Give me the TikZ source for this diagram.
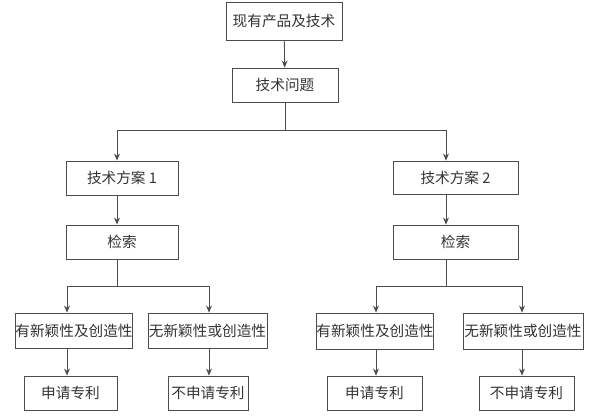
\documentclass[tikz,border=0pt]{standalone}
\usepackage{fontspec}
\setmainfont{Noto Sans CJK SC}
\usetikzlibrary{arrows.meta}

\begin{document}
\begin{tikzpicture}[x=0.03cm, y=-0.03cm,
    caixa/.style={draw=black!70, line width=0.7pt, text=black!80, inner sep=0pt,
      font=\fontsize{12.5}{14}\selectfont, minimum height=1.02cm},
    fletxa/.style={draw=black!70, line width=0.7pt, -{Stealth[length=6pt, width=5pt]}},
    linia/.style={draw=black!70, line width=0.7pt}]
    \useasboundingbox (0,0) rectangle (597,417);

    % CAPÇALERA
    \node[caixa, minimum width=3.48cm, minimum height=1.14cm] (prod) at (284,21) {现有产品及技术};
    \node[caixa, minimum width=3.18cm] (prob) at (285,85) {技术问题};

    % BRANCA ESQUERRA
    \node[caixa, minimum width=3.36cm] (sol1) at (122,178) {技术方案 1};
    \node[caixa, minimum width=3.36cm] (cerca1) at (122,242) {检索};
    \node[caixa, minimum width=3.42cm, minimum height=1.05cm] (nov1) at (74,330.5) {有新颖性及创造性};
    \node[caixa, minimum width=3.57cm, minimum height=1.05cm] (nonov1) at (207.5,330.5) {无新颖性或创造性};
    \node[caixa, minimum width=2.79cm] (pat1) at (70.5,393) {申请专利};
    \node[caixa, minimum width=2.4cm] (nopat1) at (208,393) {不申请专利};

    % BRANCA DRETA
    \node[caixa, minimum width=3.75cm, minimum height=0.99cm] (sol2) at (455.5,177.5) {技术方案 2};
    \node[caixa, minimum width=3.75cm] (cerca2) at (455.5,242) {检索};
    \node[caixa, minimum width=3.48cm, minimum height=1.08cm] (nov2) at (375,331) {有新颖性及创造性};
    \node[caixa, minimum width=3.6cm, minimum height=1.08cm] (nonov2) at (523,331) {无新颖性或创造性};
    \node[caixa, minimum width=2.85cm] (pat2) at (374.5,393) {申请专利};
    \node[caixa, minimum width=2.85cm] (nopat2) at (526.5,393) {不申请专利};

    % PUNTS DE BIFURCACIÓ
    \coordinate (b0) at (285,130);
    \coordinate (b1) at (117,130);
    \coordinate (b2) at (446,130);
    \coordinate (c1) at (117,286);
    \coordinate (c2) at (446,286);
    \coordinate (e1) at (67,286);
    \coordinate (f1) at (209,286);
    \coordinate (e2) at (376,286);
    \coordinate (f2) at (522,286);

    % CONNECTORS
    \draw[fletxa] (prod) -- (prob);
    \draw[linia] (prob) -- (b0);
    \draw[linia] (b1) -- (b2);
    \draw[fletxa] (b1) -- (b1 |- sol1.north);
    \draw[fletxa] (b2) -- (b2 |- sol2.north);
    \draw[fletxa] (b1 |- sol1.south) -- (b1 |- cerca1.north);
    \draw[fletxa] (b2 |- sol2.south) -- (b2 |- cerca2.north);
    \draw[linia] (c1 |- cerca1.south) -- (c1);
    \draw[linia] (c2 |- cerca2.south) -- (c2);
    \draw[linia] (e1) -- (f1);
    \draw[linia] (e2) -- (f2);
    \foreach \p/\a/\b in {e1/nov1/pat1, f1/nonov1/nopat1, e2/nov2/pat2, f2/nonov2/nopat2} {
        \draw[fletxa] (\p) -- (\p |- \a.north);
        \draw[fletxa] (\p |- \a.south) -- (\p |- \b.north);
    }

\end{tikzpicture}
\end{document}
